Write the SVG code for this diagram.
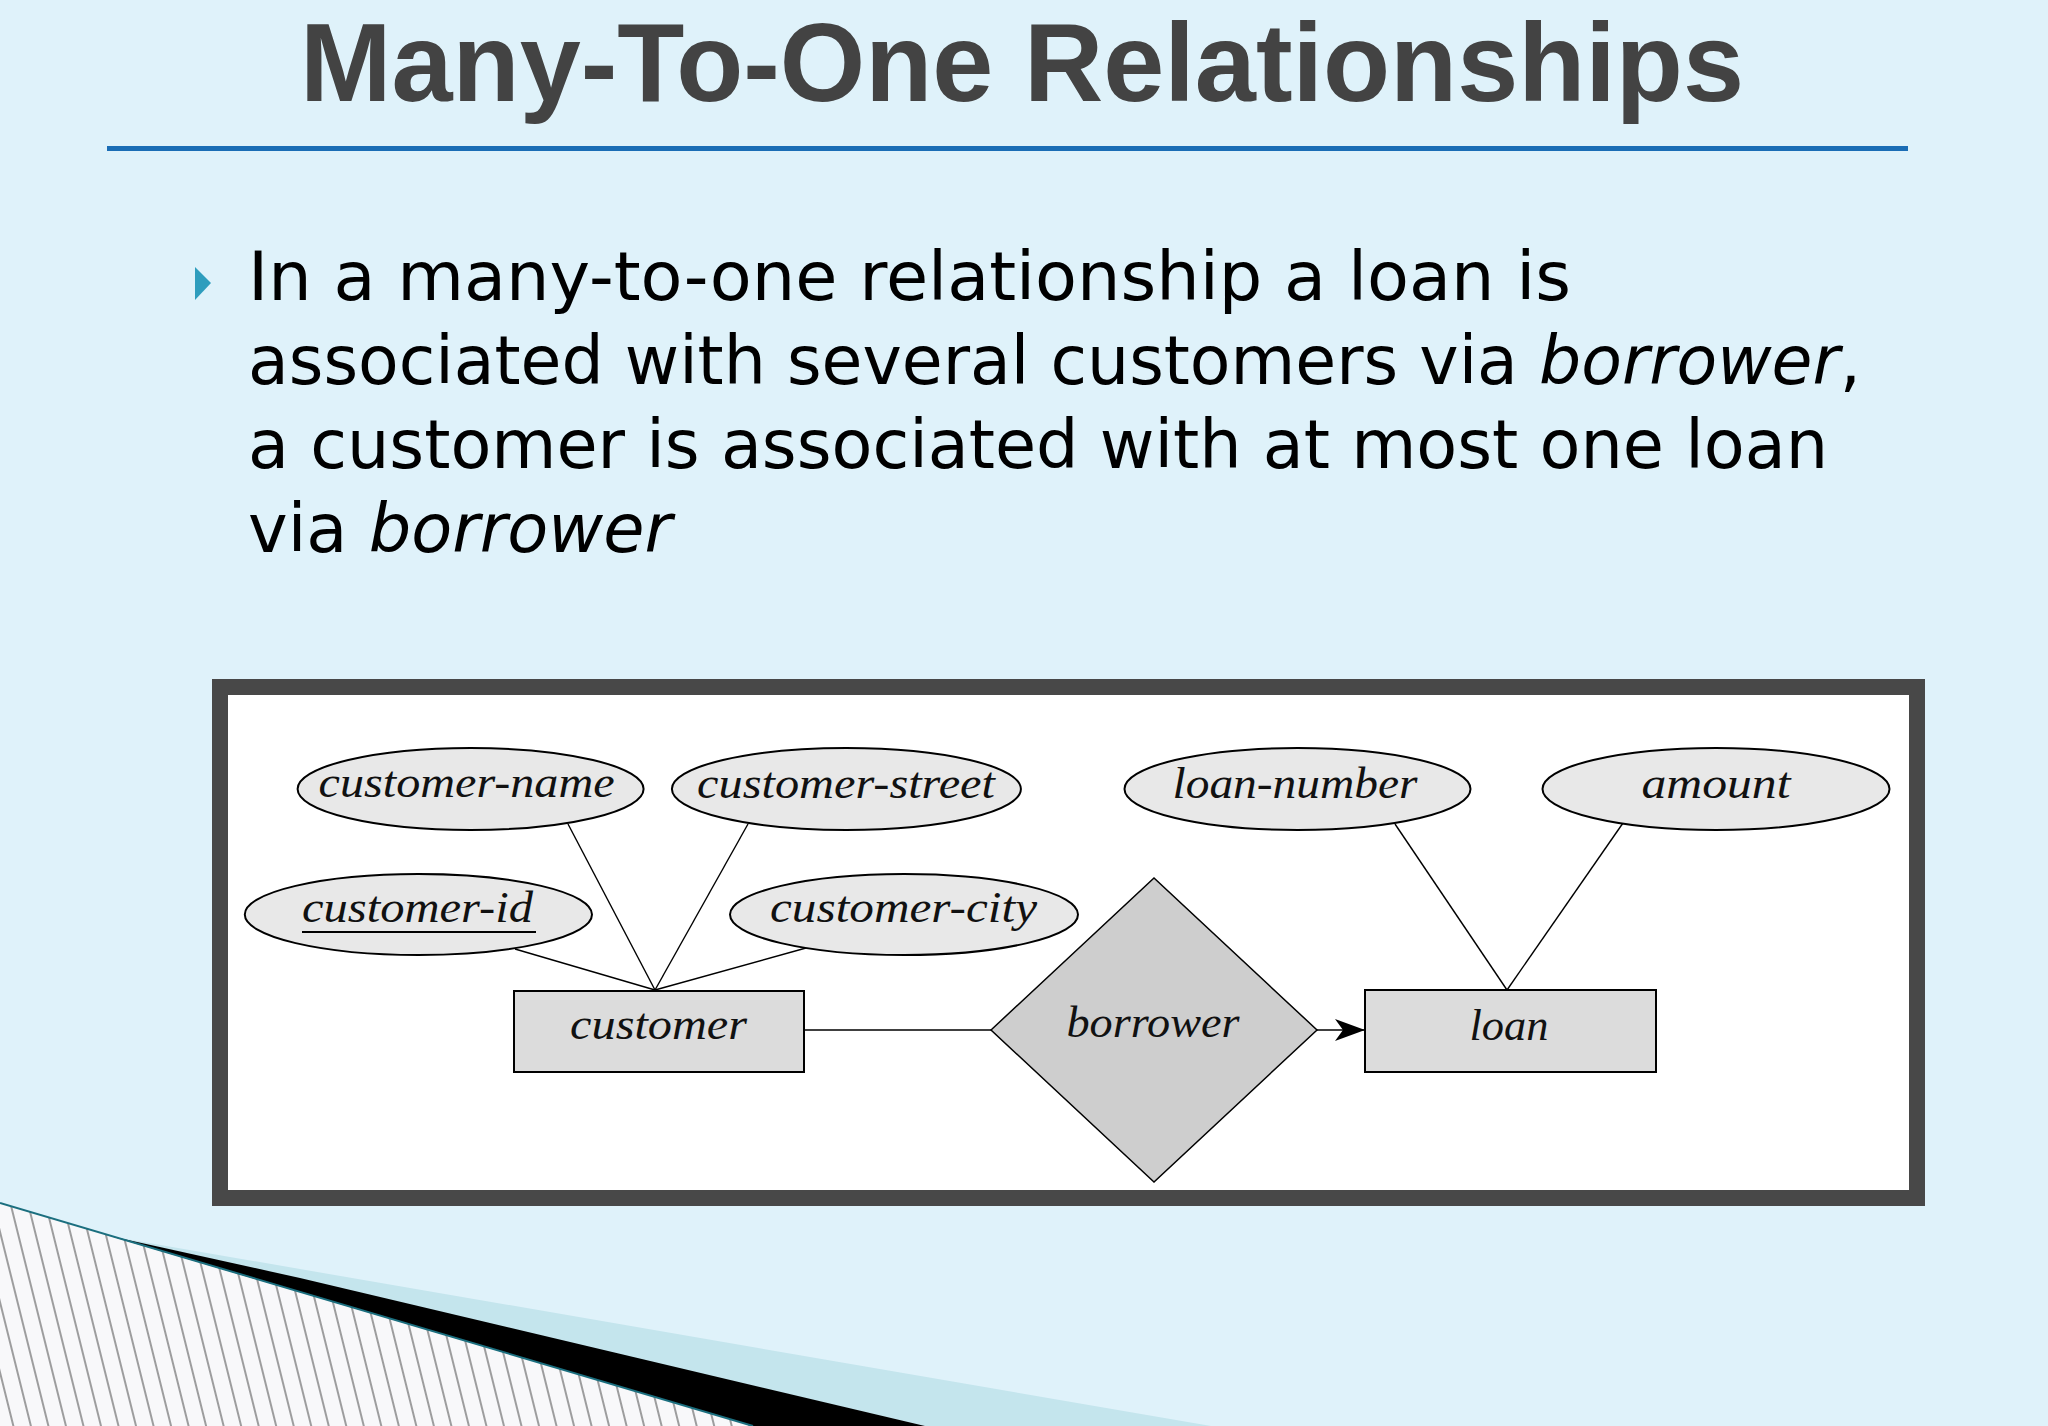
<svg xmlns="http://www.w3.org/2000/svg" width="2048" height="1426" viewBox="0 0 2048 1426">
  <defs>
    <style>
      .title { font-family: "Liberation Sans", Arial, sans-serif; font-weight: bold; font-size: 112px; fill: #434343; }
      .body { font-family: "DejaVu Sans", "Liberation Sans", sans-serif; font-size: 67px; fill: #000; }
      .it { font-style: italic; }
      .er { font-family: "Liberation Serif", "DejaVu Serif", serif; font-style: italic; font-size: 44px; fill: #111; text-anchor: middle; }
      .attr { fill: #e8e8e8; stroke: #000; stroke-width: 2; }
      .ent { fill: #dcdcdc; stroke: #000; stroke-width: 2; }
      .rel { fill: #cecece; stroke: #000; stroke-width: 1.5; }
      .conn line { stroke: #000; stroke-width: 1.4; }
    </style>
    <pattern id="hatch" width="17" height="17" patternUnits="userSpaceOnUse" patternTransform="rotate(-14)">
      <rect width="17" height="17" fill="#f8f8fa"/>
      <line x1="8" y1="0" x2="8" y2="17" stroke="#7f7f7f" stroke-width="1.5"/>
    </pattern>
    <marker id="arrow" markerWidth="34" markerHeight="24" refX="32" refY="12" orient="auto" markerUnits="userSpaceOnUse">
      <path d="M2,1 L32,12 L2,23 L10,12 Z" fill="#000"/>
    </marker>
  </defs>

  <!-- background -->
  <rect x="0" y="0" width="2048" height="1426" fill="#dff2fa"/>

  <!-- bottom-left decoration -->
  <polygon points="120,1238 1211,1426 925,1426" fill="#c4e5ed"/>
  <polygon points="0,1203 753,1426 0,1426" fill="url(#hatch)"/>
  <polygon points="110,1236 300,1278 925,1426 753,1426" fill="#000"/>
  <line x1="0" y1="1203" x2="753" y2="1426" stroke="#1b6f7f" stroke-width="2"/>

  <!-- title -->
  <text class="title" x="300" y="101" textLength="1444" lengthAdjust="spacingAndGlyphs">Many-To-One Relationships</text>
  <rect x="107" y="146" width="1801" height="5" fill="#1a6db5"/>

  <!-- bullet text -->
  <polygon points="195,267 211,283 195,300" fill="#2e9dbd"/>
  <text class="body" x="248" y="300" textLength="1323" lengthAdjust="spacingAndGlyphs">In a many-to-one relationship a loan is</text>
  <text class="body" x="248" y="384" textLength="1613" lengthAdjust="spacingAndGlyphs">associated with several customers via <tspan class="it">borrower</tspan>,</text>
  <text class="body" x="248" y="468" textLength="1580" lengthAdjust="spacingAndGlyphs">a customer is associated with at most one loan</text>
  <text class="body" x="248" y="552" textLength="424" lengthAdjust="spacingAndGlyphs">via <tspan class="it">borrower</tspan></text>

  <!-- frame -->
  <rect x="220" y="687" width="1697" height="511" fill="#ffffff" stroke="#484848" stroke-width="16"/>

  <!-- connectors -->
  <g id="connectors" class="conn">
    <line x1="568" y1="824" x2="655" y2="990"/>
    <line x1="748" y1="824" x2="655" y2="990"/>
    <line x1="515" y1="949" x2="655" y2="990"/>
    <line x1="806" y1="948" x2="655" y2="990"/>
    <line x1="804" y1="1030" x2="991" y2="1030"/>
    <line x1="1395" y1="824" x2="1507" y2="990"/>
    <line x1="1623" y1="823" x2="1507" y2="990"/>
    <line x1="1317" y1="1030" x2="1365" y2="1030" stroke-width="2" marker-end="url(#arrow)"/>
  </g>

  <!-- attribute nodes -->
  <g id="customer-name">
    <ellipse class="attr" cx="470.6" cy="789" rx="173" ry="41"/>
    <text class="er" x="466.6" y="797" textLength="296" lengthAdjust="spacingAndGlyphs">customer-name</text>
  </g>
  <g id="customer-street">
    <ellipse class="attr" cx="846.4" cy="789" rx="174.5" ry="41"/>
    <text class="er" x="846" y="798" textLength="298" lengthAdjust="spacingAndGlyphs">customer-street</text>
  </g>
  <g id="customer-id">
    <ellipse class="attr" cx="418.4" cy="914.5" rx="173.6" ry="40.5"/>
    <text class="er" x="417.5" y="922" textLength="231" lengthAdjust="spacingAndGlyphs">customer-id</text>
    <line x1="302" y1="932" x2="536" y2="932" stroke="#000" stroke-width="2"/>
  </g>
  <g id="customer-city">
    <ellipse class="attr" cx="904" cy="914.5" rx="174" ry="40.5"/>
    <text class="er" x="903.5" y="922" textLength="267" lengthAdjust="spacingAndGlyphs">customer-city</text>
  </g>
  <g id="loan-number">
    <ellipse class="attr" cx="1297.5" cy="789" rx="173" ry="41"/>
    <text class="er" x="1295" y="798" textLength="245" lengthAdjust="spacingAndGlyphs">loan-number</text>
  </g>
  <g id="amount">
    <ellipse class="attr" cx="1716" cy="789" rx="173.5" ry="41"/>
    <text class="er" x="1716" y="798" textLength="149" lengthAdjust="spacingAndGlyphs">amount</text>
  </g>

  <!-- entity nodes -->
  <g id="customer">
    <rect class="ent" x="514" y="991" width="290" height="81"/>
    <text class="er" x="658.6" y="1039" textLength="177" lengthAdjust="spacingAndGlyphs">customer</text>
  </g>
  <g id="loan">
    <rect class="ent" x="1365" y="990" width="291" height="82"/>
    <text class="er" x="1509" y="1040" textLength="79" lengthAdjust="spacingAndGlyphs">loan</text>
  </g>

  <!-- relationship node -->
  <g id="borrower">
    <polygon class="rel" points="991,1030 1154,878 1317,1030 1154,1182"/>
    <text class="er" x="1153" y="1037" textLength="173" lengthAdjust="spacingAndGlyphs">borrower</text>
  </g>
</svg>
